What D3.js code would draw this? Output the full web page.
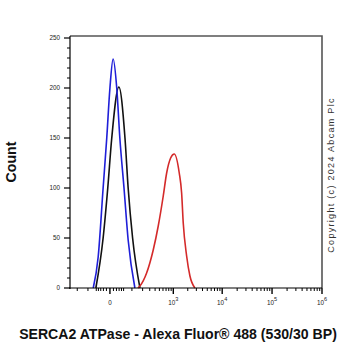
<!DOCTYPE html>
<html>
<head>
<meta charset="utf-8">
<script src="https://cdn.jsdelivr.net/npm/d3@7"></script>
<style>
  html, body { margin: 0; padding: 0; background: #fff; }
  svg { display: block; font-family: "Liberation Sans", Arial, sans-serif; }
</style>
</head>
<body>
<svg id="chart" width="355" height="355"></svg>
<script>
/* ── data (fluorescence value, count) ────────────────────────────────── */

const blueValues  = [-66, -41, -21, -9, 0, 9, 21, 33, 52, 75, 123];
const blueCounts  = [0, 31, 100, 150, 200, 229, 200, 150, 100, 48, 0];

const blackValues = [-52, -21, -6, 5, 29, 57, 75, 105, 170];
const blackCounts = [0, 50, 100, 150, 201, 150, 100, 50, 0];

const redValues   = [150, 170, 252, 362, 471, 608, 721, 878, 1047, 1333, 1494, 1614, 1897, 2218, 2807];
const redCounts   = [0, 2, 15, 38, 62, 92, 115, 130, 134, 115, 95, 65, 32, 12, 0];

const yMajorTicks = [0, 50, 100, 150, 200, 250];
const xMajorTicks = [0, 1e3, 1e4, 1e5, 1e6];
const xMajorLabels = ['0', '10|3', '10|4', '10|5', '10|6'];

const xTitle = 'SERCA2 ATPase - Alexa Fluor\u00ae 488 (530/30 BP)';
const yTitle = 'Count';
const copyright = 'Copyright (c) 2024 Abcam Plc';

/* ── layout ─────────────────────────────────────────────────────────── */

const M = { left: 70, right: 322, top: 36, bottom: 288 };
const xMin = -302, xMax = 1e6;

const svg = d3.select('#chart');

const x = d3.scaleSymlog().constant(57).domain([xMin, xMax]).range([M.left, M.right]);
const y = d3.scaleLinear().domain([0, 252]).range([M.bottom, M.top]);

// minor ticks: linear region near zero, then 2..9 within each decade
const xMinorTicks = [-200, -100, -50, -40, -30, -20, -10, 10, 20, 30, 40, 50];
for (let v = 100; v < 1000; v += 100) xMinorTicks.push(v);
for (const dec of [1e3, 1e4, 1e5]) {
  for (let m = 2; m <= 9; m++) xMinorTicks.push(m * dec);
}
const yMinorTicks = d3.range(0, 251, 10).filter(v => v % 50 !== 0);

// scale a text node so its length matches what the reference shows
function fitText(sel, size, len) {
  sel.attr('font-size', size);
  const w = sel.node().getComputedTextLength();
  sel.attr('font-size', size * len / w);
}

/* ── frame ──────────────────────────────────────────────────────────── */

svg.append('path')
  .attr('d', `M${M.left},${M.top}H${M.right}V${M.bottom}`)
  .attr('fill', 'none')
  .attr('stroke', '#555')
  .attr('stroke-width', 1.6);

/* ── histograms ─────────────────────────────────────────────────────── */

const line = d3.line()
  .x(d => x(d[0]))
  .y(d => y(d[1]))
  .curve(d3.curveMonotoneX);

const series = [
  { color: '#111111', values: blackValues, counts: blackCounts },
  { color: '#1f1fd8', values: blueValues,  counts: blueCounts },
  { color: '#d42a2a', values: redValues,   counts: redCounts },
];

for (const s of series) {
  const pts = s.values.map((v, i) => [v, s.counts[i]]);
  svg.append('path')
    .datum(pts)
    .attr('d', line)
    .attr('fill', 'none')
    .attr('stroke', s.color)
    .attr('stroke-width', 1.6)
    .attr('stroke-linejoin', 'round');
}

/* ── y axis ─────────────────────────────────────────────────────────── */

const gy = svg.append('g');
gy.append('line')
  .attr('x1', M.left).attr('x2', M.left)
  .attr('y1', M.top).attr('y2', M.bottom + 1)
  .attr('stroke', '#000').attr('stroke-width', 1.2);

gy.selectAll('line.minor').data(yMinorTicks).join('line')
  .attr('class', 'minor')
  .attr('x1', M.left - 3).attr('x2', M.left)
  .attr('y1', d => y(d)).attr('y2', d => y(d))
  .attr('stroke', '#000').attr('stroke-width', 1);

gy.selectAll('line.major').data(yMajorTicks).join('line')
  .attr('class', 'major')
  .attr('x1', M.left - 6).attr('x2', M.left)
  .attr('y1', d => y(d)).attr('y2', d => y(d))
  .attr('stroke', '#000').attr('stroke-width', 1.2);

gy.selectAll('text').data(yMajorTicks).join('text')
  .attr('x', M.left - 10)
  .attr('y', d => y(d) + 2.2)
  .attr('text-anchor', 'end')
  .attr('font-size', 6.3)
  .attr('fill', '#222')
  .text(d => d);

/* ── x axis ─────────────────────────────────────────────────────────── */

const gx = svg.append('g');
gx.append('line')
  .attr('x1', M.left - 1).attr('x2', M.right)
  .attr('y1', M.bottom).attr('y2', M.bottom)
  .attr('stroke', '#000').attr('stroke-width', 1.2);

gx.selectAll('line.minor').data(xMinorTicks).join('line')
  .attr('class', 'minor')
  .attr('x1', d => x(d)).attr('x2', d => x(d))
  .attr('y1', M.bottom).attr('y2', M.bottom + 3)
  .attr('stroke', '#000').attr('stroke-width', 1);

gx.selectAll('line.major').data(xMajorTicks).join('line')
  .attr('class', 'major')
  .attr('x1', d => x(d)).attr('x2', d => x(d))
  .attr('y1', M.bottom).attr('y2', M.bottom + 6)
  .attr('stroke', '#000').attr('stroke-width', 1.4);

const xl = gx.selectAll('text').data(xMajorTicks).join('text')
  .attr('x', d => x(d))
  .attr('y', M.bottom + 17)
  .attr('text-anchor', 'middle')
  .attr('font-size', 6.3)
  .attr('fill', '#222');

xl.each(function (d, i) {
  const [base, exp] = xMajorLabels[i].split('|');
  const t = d3.select(this);
  t.append('tspan').text(base);
  if (exp) t.append('tspan').attr('dy', -4).attr('font-size', 5.6).text(exp);
});

/* ── titles ─────────────────────────────────────────────────────────── */

svg.append('text')
  .attr('transform', `translate(16,${(M.top + M.bottom) / 2}) rotate(-90)`)
  .attr('text-anchor', 'middle')
  .attr('font-weight', 'bold')
  .attr('fill', '#111')
  .text(yTitle)
  .call(fitText, 12, 41);

svg.append('text')
  .attr('x', 178)
  .attr('y', 339)
  .attr('text-anchor', 'middle')
  .attr('font-weight', 'bold')
  .attr('fill', '#111')
  .text(xTitle)
  .call(fitText, 11.5, 318);

svg.append('text')
  .attr('transform', `translate(334,${(88 + 262) / 2}) rotate(-90)`)
  .attr('text-anchor', 'middle')
  .attr('font-size', 9)
  .attr('letter-spacing', 1.3)
  .attr('fill', '#333')
  .text(copyright);
</script>
</body>
</html>
